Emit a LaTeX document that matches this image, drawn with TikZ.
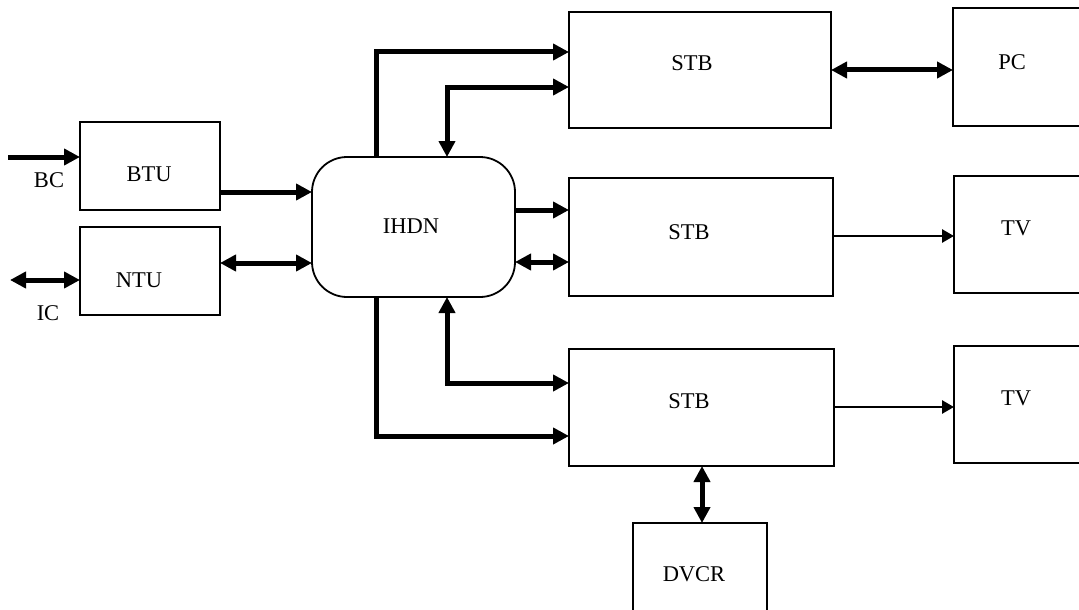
\documentclass[tikz,border=0pt]{standalone}
\usepackage{fontspec}
\setmainfont{Liberation Serif}
\usetikzlibrary{arrows.meta}
\begin{document}
\begin{tikzpicture}[x=1pt,y=-1pt,
  box/.style={draw,line width=1.8pt,inner sep=0pt,outer sep=0pt},
  lbl/.style={inner sep=0pt,font=\fontsize{22.5}{26}\selectfont},
  thk/.style={line width=5pt},
  thn/.style={line width=2.7pt},
  bt/.tip={Triangle[length=16pt,width=16pt]},
  st/.tip={Triangle[length=12pt,width=13pt]}]
\useasboundingbox (0,0) rectangle (1079,610);
\clip (0,0) rectangle (1079,610);
% boxes
\node[box,minimum width=140pt,minimum height=88pt] (btu) at (150,166) {};
\node[box,minimum width=140pt,minimum height=88pt] (ntu) at (150,271) {};
\node[box,rounded corners=35pt,minimum width=203pt,minimum height=140pt] (ihdn) at (413.5,227) {};
\node[box,minimum width=262pt,minimum height=116pt] (stb1) at (700,70) {};
\node[box,minimum width=264pt,minimum height=118pt] (stb2) at (701,237) {};
\node[box,minimum width=265pt,minimum height=117pt] (stb3) at (701.5,407.5) {};
\node[box,minimum width=147pt,minimum height=118pt] (pc) at (1026.5,67) {};
\node[box,minimum width=146pt,minimum height=117pt] (tv1) at (1027,234.5) {};
\node[box,minimum width=146pt,minimum height=117pt] (tv2) at (1027,404.5) {};
\node[box,minimum width=134pt,minimum height=117pt] (dvcr) at (700,581.5) {};
% labels
\node[lbl] (tbtu) at (149,174) {BTU};
\node[lbl] (tntu) at (139,280) {NTU};
\node[lbl] (tihdn) at (411,226) {IHDN};
\node[lbl] (tstb1) at (692,63) {STB};
\node[lbl] (tstb2) at (689,232) {STB};
\node[lbl] (tstb3) at (689,401) {STB};
\node[lbl] (tpc) at (1012,62) {PC};
\node[lbl] (ttv1) at (1016,228) {TV};
\node[lbl] (ttv2) at (1016,398) {TV};
\node[lbl] (tdvcr) at (694,574) {DVCR};
\node[lbl] (tbc) at (49,180) {BC};
\node[lbl] (tic) at (48,313) {IC};
% free ends
\coordinate (bcs) at (8,157);
\coordinate (ics) at (10,280);
% connectors
\draw[thk,-bt] (bcs) -- (btu.west |- bcs);
\draw[thk,bt-bt] (ics) -- (ntu.west |- ics);
\draw[thk,-bt] (btu.east |- 0,192) -- (ihdn.west |- 0,192);
\draw[thk,bt-bt] (ntu.east |- 0,263) -- (ihdn.west |- 0,263);
\draw[thk,-bt] (ihdn.north -| 376,0) |- (stb1.west |- 0,52);
\draw[thk,bt-bt] (stb1.west |- 0,87) -| (ihdn.north -| 447,0);
\draw[thk,-bt] (ihdn.east |- 0,210) -- (stb2.west |- 0,210);
\draw[thk,bt-bt] (ihdn.east |- 0,262) -- (stb2.west |- 0,262);
\draw[thk,bt-bt] (stb3.west |- 0,383) -| (ihdn.south -| 447,0);
\draw[thk,-bt] (ihdn.south -| 376,0) |- (stb3.west |- 0,436);
\draw[thk,bt-bt] (stb1.east |- 0,70) -- (pc.west |- 0,70);
\draw[thn,-st] (stb2.east |- 0,236) -- (tv1.west |- 0,236);
\draw[thn,-st] (stb3.east |- 0,407) -- (tv2.west |- 0,407);
\draw[thk,bt-bt] (stb3.south -| 702,0) -- (dvcr.north -| 702,0);
\end{tikzpicture}
\end{document}
